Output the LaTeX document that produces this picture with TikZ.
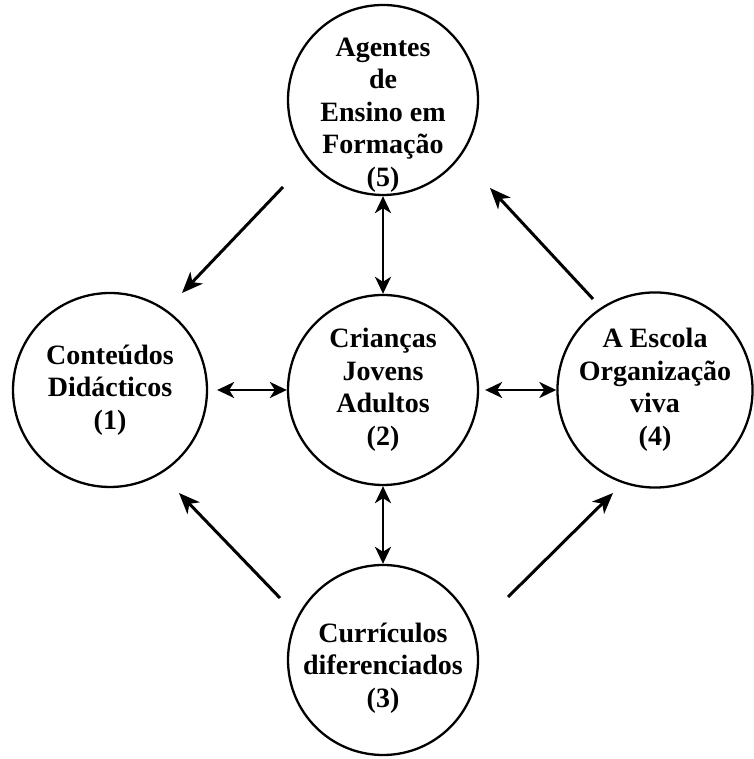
\documentclass[tikz,border=0pt]{standalone}
\usepackage{fontspec}
\setmainfont{Liberation Serif}
\usetikzlibrary{arrows.meta,calc}
\begin{document}
\begin{tikzpicture}[x=1pt,y=1pt,
  stagefont/.style={align=center,font=\fontsize{28}{32.5}\selectfont\bfseries},
  stage/.style={circle,draw,line width=2.3pt,minimum size=190pt,inner sep=0pt,stagefont},
  link/.style={line width=3pt,-{Stealth[length=21pt,width=17pt,inset=6pt]}},
  twoway/.style={line width=2.6pt,
    {Stealth[length=17pt,width=16pt,inset=5pt]}-{Stealth[length=17pt,width=16pt,inset=5pt]}}]
\useasboundingbox (0,0) rectangle (753,759);

% the five stages
\node[stage,label={[stagefont,yshift=-15pt]center:Agentes\\de\\Ensino em\\Formação\\(5)}] (c5) at (383,659) {};
\node[stage,minimum size=194pt] (c1) at (110,369) {Conteúdos\\Didácticos\\(1)};
\node[stage] (c2) at (383,369) {Crianças\\Jovens\\Adultos\\(2)};
\node[stage] (c4) at (655,369) {A Escola\\Organização\\viva\\(4)};
\node[stage,label={[stagefont,yshift=-8pt]center:Currículos\\diferenciados\\(3)}] (c3) at (383,99) {};

% two-way links around the centre
\draw[twoway,shorten <=9pt] (c1) -- (c2);
\draw[twoway,shorten <=6pt] (c2) -- (c4);
\draw[twoway] (c5) -- (c2);
\draw[twoway] (c2) -- (c3);

% free-standing diagonal arrows
\coordinate (d1s) at ($(c5)+(-100,-87)$);
\coordinate (d1e) at ($(c1)+(72,97)$);
\coordinate (d2s) at ($(c4)+(-62,91)$);
\coordinate (d2e) at ($(c5)+(107,-88)$);
\coordinate (d3s) at ($(c3)+(-103,62)$);
\coordinate (d3e) at ($(c1)+(69,-103)$);
\coordinate (d4s) at ($(c3)+(125,63)$);
\coordinate (d4e) at ($(c4)+(-42,-103)$);
\draw[link] (d1s) -- (d1e);
\draw[link] (d2s) -- (d2e);
\draw[link] (d3s) -- (d3e);
\draw[link] (d4s) -- (d4e);
\end{tikzpicture}
\end{document}
